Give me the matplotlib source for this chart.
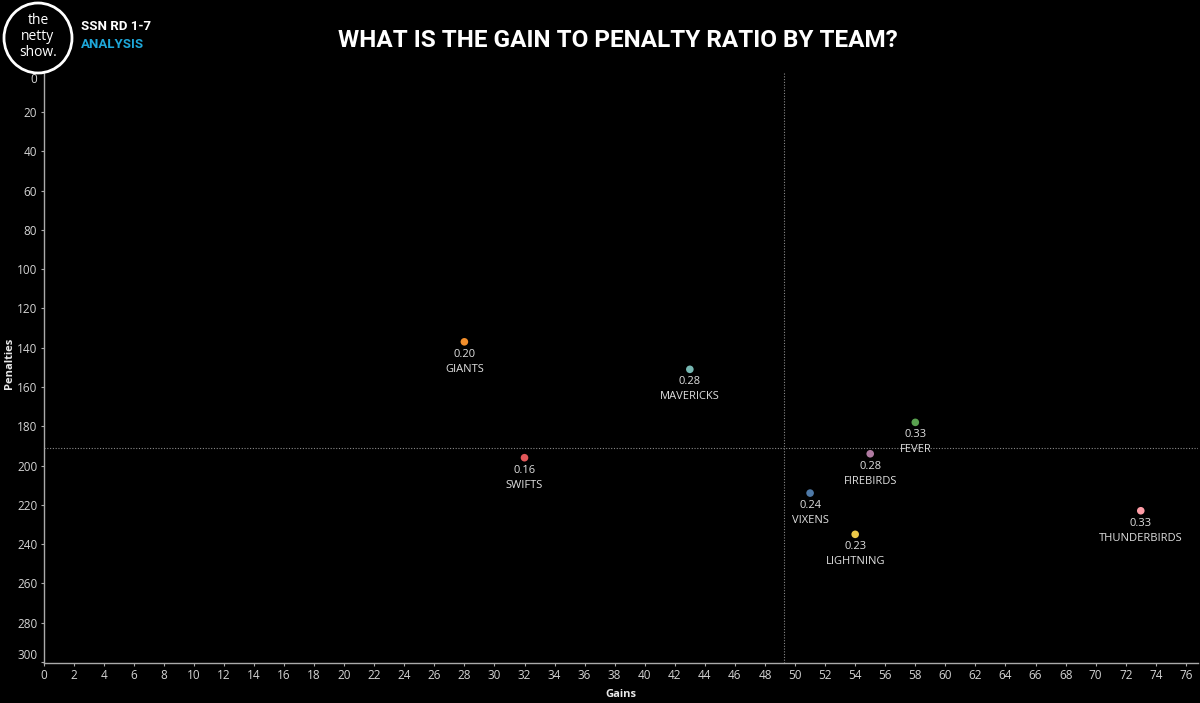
import matplotlib.pyplot as plt
from matplotlib.patches import Ellipse

teams = ["GIANTS", "MAVERICKS", "SWIFTS", "FEVER", "FIREBIRDS", "VIXENS", "LIGHTNING", "THUNDERBIRDS"]
gains = [28, 43, 32, 58, 55, 51, 54, 73]
penalties = [137, 151, 196, 178, 194, 214, 235, 223]
ratio_labels = ["0.20", "0.28", "0.16", "0.33", "0.28", "0.24", "0.23", "0.33"]
colors = ["#f28e2b", "#76b7b2", "#e15759", "#59a14f", "#b07aa1", "#4e79a7", "#edc948", "#ff9da7"]

narrow = ["Roboto", "DejaVu Sans"]
body = ["Open Sans", "DejaVu Sans"]
tick_col = "#d4d4d4"

plt.rcParams["font.family"] = body

fig = plt.figure(figsize=(12, 7.03), dpi=100)
fig.patch.set_facecolor("black")
ax = fig.add_axes([0.03625, 0.0569, 0.962, 0.8397])
ax.set_facecolor("black")

# reference lines at averages
ax.axvline(sum(gains) / len(gains), color="#8a8a8a", lw=0.8, ls=(0, (1, 1.5)))
ax.axhline(sum(penalties) / len(penalties), color="#8a8a8a", lw=0.8, ls=(0, (1, 1.5)))

ax.scatter(gains, penalties, c=colors, s=30, zorder=3, edgecolors="none")
for g, p, r, t in zip(gains, penalties, ratio_labels, teams):
    ax.annotate(r + "\n" + t, (g, p), xytext=(0, -5), textcoords="offset points",
                ha="center", va="top", color="#e0e0e0", fontsize=8, linespacing=1.5)

ax.set_xlim(0, 76.8)
ax.set_ylim(300.5, 0)
ax.set_xticks(range(0, 77, 2))
ax.set_yticks(range(0, 301, 20))
ax.tick_params(colors="#aaaaaa", labelcolor=tick_col, labelsize=8.5, length=2.5, width=0.8, pad=2)
for s in ["top", "right"]:
    ax.spines[s].set_visible(False)
for s in ["left", "bottom"]:
    ax.spines[s].set_color("#aaaaaa")
    ax.spines[s].set_linewidth(1)
ylabs = ax.get_yticklabels()
ylabs[0].set_va("top")
ylabs[-1].set_va("bottom")

ax.set_xlabel("Gains", color="#e8e8e8", fontsize=8, fontweight="bold", labelpad=5)
fig.text(10 / 1200, 1 - 363 / 703, "Penalties", rotation=90, color="#e8e8e8", fontsize=8,
         fontweight="bold", ha="center", va="center")

# title & logo
fig.text(0.515, 0.943, "WHAT IS THE GAIN TO PENALTY RATIO BY TEAM?", color="white",
         fontsize=17.5, fontweight="bold", family=narrow, ha="center", va="center")
fig.add_artist(Ellipse((38 / 1200, 1 - 38 / 703), 68 / 1200, 70 / 703, transform=fig.transFigure,
                       facecolor="none", edgecolor="white", lw=2))
for txt, yy in [("the", 20), ("netty", 37), ("show.", 53)]:
    fig.text(38 / 1200, 1 - yy / 703, txt, color="white", fontsize=10, ha="center", va="center")
fig.text(81 / 1200, 1 - 27 / 703, "SSN RD 1-7", color="white", fontsize=9.5, fontweight="bold",
         family=narrow, va="center")
fig.text(81 / 1200, 1 - 44.5 / 703, "ANALYSIS", color="#1ea7d9", fontsize=9.5, fontweight="bold",
         family=narrow, va="center")

fig.savefig("out.png", dpi=100, facecolor="black")
